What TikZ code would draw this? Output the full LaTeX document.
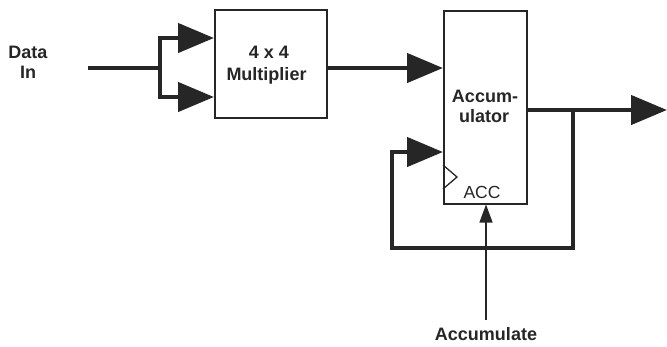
\documentclass[tikz,border=0pt]{standalone}
\usepackage{fontspec}
\setmainfont{Liberation Sans}
\usetikzlibrary{arrows.meta,calc}
\tikzset{
  blk/.style={draw=black!85, line width=2pt, minimum width=#1, inner sep=0pt},
  bus/.style={draw=black!85, line width=4.5pt, line join=miter},
  bigarrow/.style={-{Triangle[length=36pt,width=29pt]}},
  lbl/.style={font=\fontsize{18}{20}\selectfont\bfseries, anchor=base, inner sep=0pt, text=black!85},
  acclbl/.style={font=\fontsize{17.5}{19}\selectfont, anchor=base, inner sep=0pt, text=black!85},
  thinline/.style={draw=black!85, line width=1.3pt},
}
\begin{document}
\begin{tikzpicture}[x=1pt,y=-1pt]
\useasboundingbox (0,0) rectangle (667,346);
% boxes
\node[blk=112pt, minimum height=108pt] (mult) at (271,64) {};
\node[blk=83pt, minimum height=193pt] (acc) at (485.5,107) {};
% texts
\node[lbl] (data) at (28,58) {Data};
\node[lbl] (in) at (28,78) {In};
\node[lbl] (m1) at (269,58) {4 x 4};
\node[lbl] (m2) at (266.5,80) {Multiplier};
\node[lbl] (a1) at (485,102) {Accum-};
\node[lbl] (a2) at (484,122) {ulator};
\node[acclbl] (acct) at (482,198) {ACC};
\node[lbl] (accum) at (486,340) {Accumulate};
% coordinates
\coordinate (din) at (88,68);
\coordinate (split) at (160,68);
\coordinate (mi1) at (mult.west |- 0,38);
\coordinate (mi2) at (mult.west |- 0,97);
\coordinate (ai1) at (acc.west |- 0,68);
\coordinate (ai2) at (acc.west |- 0,152);
\coordinate (ao) at (acc.east |- 0,110);
\coordinate (out) at (667,110);
\coordinate (junc) at (573,110);
\coordinate (fbl) at (392,248);
\coordinate (accin) at (486,320);
% data in split
\draw[bus] (din) -- (split);
\draw[bus,bigarrow] (160,68) |- (mi1);
\draw[bus,bigarrow] (160,66) |- (mi2);
% mult to acc
\draw[bus,bigarrow] (mult.east |- ai1) -- (ai1);
% acc output
\draw[bus,bigarrow] (ao) -- (out);
% feedback
\draw[bus,bigarrow] (junc) -- (junc |- fbl) -- (fbl) -- (fbl |- ai2) -- (ai2);
% clock triangle
\draw[thinline] (acc.west |- 0,165) -- (457,177) -- (acc.west |- 0,189);
% accumulate input
\draw[thinline,-{Triangle[length=18pt,width=13pt]}] (accin) -- (acc.south -| accin);
\end{tikzpicture}
\end{document}
